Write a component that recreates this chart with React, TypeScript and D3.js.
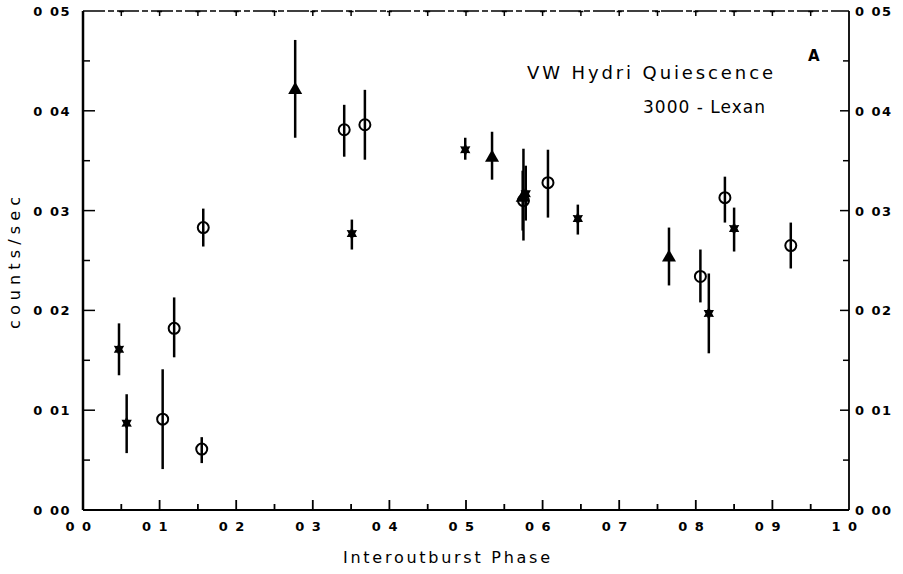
import React from "react";
import * as d3 from "d3";

// ---- data ----
// open circles
const circlePhase = [0.104, 0.119, 0.155, 0.157, 0.341, 0.368, 0.575, 0.607, 0.806, 0.838, 0.924];
const circleCounts = [0.0091, 0.0182, 0.0061, 0.0283, 0.0381, 0.0386, 0.0310, 0.0328, 0.0234, 0.0313, 0.0265];
const circleErrHi = [0.0141, 0.0213, 0.0073, 0.0302, 0.0406, 0.0421, 0.0362, 0.0361, 0.0261, 0.0334, 0.0288];
const circleErrLo = [0.0041, 0.0153, 0.0047, 0.0264, 0.0354, 0.0351, 0.0270, 0.0293, 0.0208, 0.0288, 0.0242];

// stars (hexagram)
const starPhase = [0.047, 0.057, 0.351, 0.499, 0.578, 0.646, 0.817, 0.850];
const starCounts = [0.0161, 0.0087, 0.0277, 0.0361, 0.0317, 0.0292, 0.0197, 0.0282];
const starErrHi = [0.0187, 0.0116, 0.0291, 0.0373, 0.0345, 0.0306, 0.0237, 0.0303];
const starErrLo = [0.0135, 0.0057, 0.0261, 0.0351, 0.0290, 0.0276, 0.0157, 0.0259];

// filled triangles
const triPhase = [0.277, 0.534, 0.574, 0.765];
const triCounts = [0.0421, 0.0353, 0.0313, 0.0253];
const triErrHi = [0.0471, 0.0379, 0.0340, 0.0283];
const triErrLo = [0.0373, 0.0331, 0.0280, 0.0225];

const xTickLabels = ["0 0", "0 1", "0 2", "0 3", "0 4", "0 5", "0 6", "0 7", "0 8", "0 9", "1 0"];
const yTickLabels = ["0 00", "0 01", "0 02", "0 03", "0 04", "0 05"];

const title = "VW Hydri Quiescence";
const subtitle = "3000 - Lexan";
const panel = "A";
const xTitle = "Interoutburst Phase";
const yTitle = "counts/sec";

export default function App() {
  const W = 903, H = 574;
  const x = d3.scaleLinear().domain([0, 1]).range([83, 849]);
  const y = d3.scaleLinear().domain([0, 0.05]).range([510, 11]);
  const [x0, x1] = x.range();
  const [y0, y1] = y.range();

  const xMinor = d3.range(0, 21).map((i) => i * 0.05);
  const yMinor = d3.range(0, 11).map((i) => i * 0.005);

  const tickFont = { fontFamily: "'DejaVu Sans', sans-serif", fontWeight: 700, fontSize: 13 };
  const lightFont = { fontFamily: "'DejaVu Sans', sans-serif", fontWeight: 400 };

  const tri = d3.symbol().type(d3.symbolTriangle).size(85)() as string;
  const hexagram = (R: number) => {
    const r = R * 0.55;
    const pts = d3.range(12).map((k) => {
      const a = (k * Math.PI) / 6 - Math.PI / 2;
      const rr = k % 2 === 0 ? R : r;
      return [rr * Math.cos(a) * 0.85, rr * Math.sin(a)] as [number, number];
    });
    return d3.line()(pts) + "Z";
  };
  const starPath = hexagram(7);

  const err = (px: number[], hi: number[], lo: number[], key: string) =>
    px.map((p, i) => (
      <line key={key + i} x1={x(p)} x2={x(p)} y1={y(hi[i])} y2={y(lo[i])} stroke="#000" strokeWidth={2.5} />
    ));

  return (
    <svg width={W} height={H} style={{ position: "absolute", left: 0, top: 0, background: "#fff" }}>
      <rect x={0} y={0} width={W} height={H} fill="#fff" />
      {/* frame */}
      <line x1={x0} x2={x0} y1={y0} y2={y1} stroke="#000" strokeWidth={2.5} />
      <line x1={x0} x2={x1} y1={y0} y2={y0} stroke="#000" strokeWidth={1.8} />
      <line x1={x1} x2={x1} y1={y0} y2={y1} stroke="#000" strokeWidth={1.8} />
      <line x1={x0} x2={x1} y1={y1} y2={y1} stroke="#000" strokeWidth={1.5} strokeDasharray="22 3 6 3" />

      {/* x ticks */}
      {xMinor.map((v, i) => {
        const major = i % 2 === 0;
        if (i === 0 || i === 20) return null;
        return (
          <g key={"xt" + i}>
            <line x1={x(v)} x2={x(v)} y1={y0} y2={y0 - (major ? 10 : 6)} stroke="#000" strokeWidth={1.8} />
            <line x1={x(v)} x2={x(v)} y1={y1} y2={y1 + 5} stroke="#000" strokeWidth={1.5} />
            <line x1={x(v) - 2.5} x2={x(v) + 2.5} y1={y1 + 0.5} y2={y1 + 0.5} stroke="#000" strokeWidth={1.5} />
          </g>
        );
      })}
      {/* y ticks */}
      {yMinor.map((v, i) => {
        const major = i % 2 === 0;
        if (i === 0 || i === 10) return null;
        return (
          <g key={"yt" + i}>
            <line x1={x0} x2={x0 + (major ? 12 : 7)} y1={y(v)} y2={y(v)} stroke="#000" strokeWidth={1.5} />
            <line x1={x1} x2={x1 - (major ? 9 : 6)} y1={y(v)} y2={y(v)} stroke="#000" strokeWidth={1.5} />
          </g>
        );
      })}

      {/* tick labels */}
      {xTickLabels.map((t, i) => (
        <text key={"xl" + i} x={x(i / 10) - 4} y={531} textAnchor="middle" {...tickFont} letterSpacing={1.5}>
          {t}
        </text>
      ))}
      {yTickLabels.map((t, i) => (
        <g key={"yl" + i}>
          <text x={71} y={y(i / 100) + 5} textAnchor="end" {...tickFont} letterSpacing={1.5}>
            {t}
          </text>
          <text x={855} y={y(i / 100) + 5} textAnchor="start" {...tickFont} letterSpacing={1.5}>
            {t}
          </text>
        </g>
      ))}

      {/* axis titles */}
      <text x={343} y={563} fontSize={16} {...lightFont} textLength={207} lengthAdjust="spacing">
        {xTitle}
      </text>
      <text
        transform={`translate(20,${263}) rotate(-90)`}
        textAnchor="middle"
        fontSize={16}
        {...lightFont}
        textLength={132}
        lengthAdjust="spacing"
      >
        {yTitle}
      </text>

      {/* annotations */}
      <text x={527} y={79} fontSize={18} {...lightFont} textLength={246} lengthAdjust="spacing">
        {title}
      </text>
      <text x={643} y={113} fontSize={17} {...lightFont} textLength={122} lengthAdjust="spacing">
        {subtitle}
      </text>
      <text x={808} y={61} fontSize={15} {...lightFont} fontWeight={700}>
        {panel}
      </text>

      {/* error bars */}
      {err(circlePhase, circleErrHi, circleErrLo, "ce")}
      {err(starPhase, starErrHi, starErrLo, "se")}
      {err(triPhase, triErrHi, triErrLo, "te")}

      {/* markers */}
      {circlePhase.map((p, i) => (
        <circle key={"c" + i} cx={x(p)} cy={y(circleCounts[i])} r={5.5} fill="none" stroke="#000" strokeWidth={2} />
      ))}
      {starPhase.map((p, i) => (
        <path key={"s" + i} d={starPath} transform={`translate(${x(p)},${y(starCounts[i])})`} fill="#000" />
      ))}
      {triPhase.map((p, i) => (
        <path key={"t" + i} d={tri} transform={`translate(${x(p)},${y(triCounts[i])})`} fill="#000" />
      ))}
    </svg>
  );
}
